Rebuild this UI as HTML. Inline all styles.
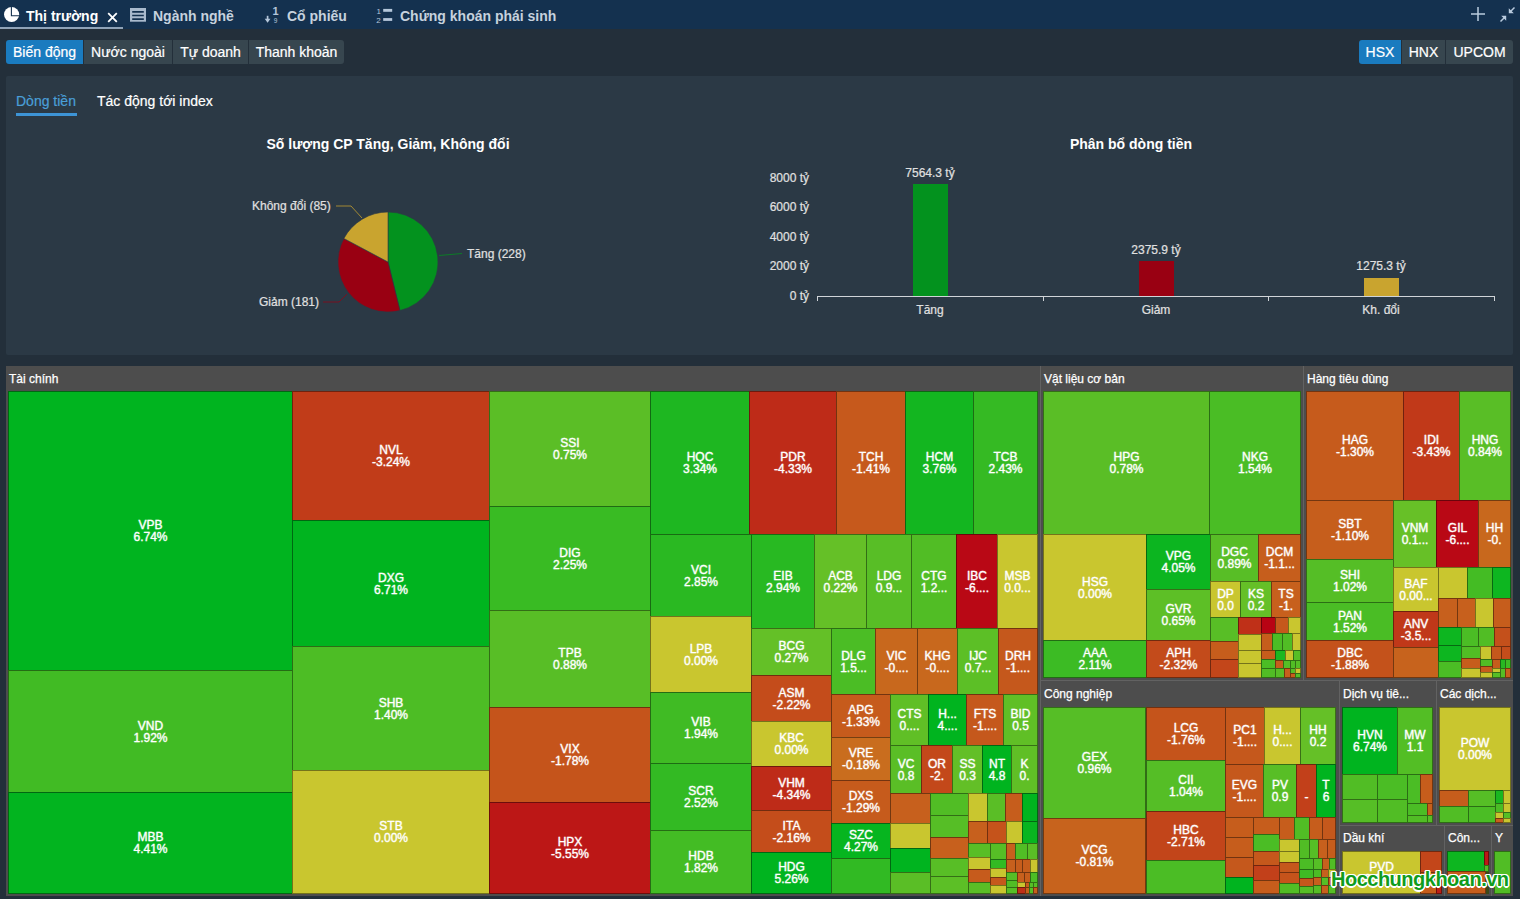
<!DOCTYPE html>
<html lang="vi">
<head>
<meta charset="utf-8">
<title>Thị trường</title>
<style>
*{box-sizing:border-box;margin:0;padding:0}
html,body{width:1520px;height:899px;overflow:hidden;background:#232f3a;font-family:"Liberation Sans",Arial,Helvetica,sans-serif;color:#fff}
.abs{position:absolute}
#top{position:absolute;left:0;top:0;width:1520px;height:29px;background:#14314f}
#top .tab{position:absolute;top:0;height:29px;font-weight:bold;font-size:14px;line-height:33px;color:#c6d2de;white-space:nowrap}
#top .tab.act{color:#fff}
#top .ul{position:absolute;left:0;top:27px;width:123px;height:2px;background:#8fa3b8}
.btn{position:absolute;top:40px;height:24px;background:#37464f;color:#fff;font-size:14px;line-height:24px;text-align:center;white-space:nowrap;-webkit-text-stroke:0.2px #fff}
.btn.on{background:#1a7bbf}
#panel{position:absolute;left:6px;top:76px;width:1507px;height:279px;background:#2b3945;border-radius:2px}
.sub{position:absolute;font-size:14px;line-height:16px;white-space:nowrap;-webkit-text-stroke:0.2px currentColor}
.ttl{position:absolute;font-size:14px;font-weight:bold;line-height:16px;white-space:nowrap;text-align:center}
.lbl{position:absolute;font-size:12px;line-height:14px;color:#e0e0e0;white-space:nowrap;-webkit-text-stroke:0.2px #e0e0e0}
.tm{position:absolute;left:0;top:0;width:1520px;height:899px}
.tmbg{position:absolute;left:6px;top:366px;width:1507px;height:530px;background:#626262}
.grp{position:absolute;background:#4d4d4d;overflow:hidden}
.grp span{position:absolute;left:3px;top:6px;font-size:12px;line-height:14px;color:#fff;white-space:nowrap;-webkit-text-stroke:0.25px #fff}
.ar{position:absolute;overflow:hidden;background:#3a4a1c}
.c{position:absolute;overflow:hidden;box-shadow:inset 0 0 0 1px rgba(0,0,0,.42);display:flex;align-items:center;justify-content:center;text-align:center}
.c b{font-weight:normal;font-size:12px;line-height:12px;color:#fff;white-space:nowrap;-webkit-text-stroke:0.28px #fff;text-shadow:0 0 1.5px rgba(255,255,255,.4)}
#wm{position:absolute;left:1331px;top:866px;font-size:20px;font-weight:bold;line-height:26px;color:#109c1c;white-space:nowrap;letter-spacing:-0.5px;
 text-shadow:-1px -1px 0 #fff,1px -1px 0 #fff,-1px 1px 0 #fff,1px 1px 0 #fff,0 -1.5px 0 #fff,0 1.5px 0 #fff,-1.5px 0 0 #fff,1.5px 0 0 #fff}
</style>
</head>
<body>
<div id="top">
  <div class="ul"></div>
  <svg class="abs" style="left:3px;top:6px" width="18" height="18" viewBox="0 0 18 18"><circle cx="8.6" cy="8.5" r="7.6" fill="#fff"/><path d="M8.4 0.5V9.8H16.6" stroke="#14314f" stroke-width="1.1" fill="none"/></svg>
  <div class="tab act" style="left:26px">Thị trường</div>
  <svg class="abs" style="left:107px;top:12px" width="11" height="11" viewBox="0 0 11 11"><path d="M1.2 1.2L9.8 9.8M9.8 1.2L1.2 9.8" stroke="#fff" stroke-width="1.8" fill="none"/></svg>
  <svg class="abs" style="left:130px;top:8px" width="16" height="14" viewBox="0 0 16 14"><rect x="0" y="0" width="16" height="13.7" fill="#a9bacd"/><path d="M2.2 3.9H13.8M2.2 7.5H13.8M2.2 11.1H13.8" stroke="#14314f" stroke-width="1.6"/></svg>
  <div class="tab" style="left:153px">Ngành nghề</div>
  <svg class="abs" style="left:264px;top:6px" width="16" height="18" viewBox="0 0 16 18"><path d="M3.6 9.8V14" stroke="#b4c6da" stroke-width="1.7" fill="none"/><path d="M0.7 12.8H6.5L3.6 16.8Z" fill="#b4c6da"/><text x="8.6" y="9.3" font-size="11" font-weight="bold" font-family="Liberation Sans,sans-serif" fill="#b4c6da">1</text><text x="9.8" y="16.6" font-size="6.5" font-family="Liberation Sans,sans-serif" fill="#b4c6da">9</text></svg>
  <div class="tab" style="left:287px">Cổ phiếu</div>
  <svg class="abs" style="left:375px;top:6px" width="18" height="18" viewBox="0 0 18 18"><text x="1.6" y="7.7" font-size="8" font-family="Liberation Sans,sans-serif" fill="#b4c6da">1</text><text x="1.2" y="16.6" font-size="8" font-family="Liberation Sans,sans-serif" fill="#b4c6da">2</text><rect x="8.2" y="2.9" width="9" height="2.9" fill="#b4c6da"/><rect x="8.2" y="12.1" width="9" height="2.8" fill="#b4c6da"/></svg>
  <div class="tab" style="left:400px">Chứng khoán phái sinh</div>
  <svg class="abs" style="left:1470px;top:6px" width="16" height="16" viewBox="0 0 16 16"><path d="M8 1V15M1 8H15" stroke="#b9cbde" stroke-width="1.5"/></svg>
  <svg class="abs" style="left:1499px;top:6px" width="17" height="17" viewBox="0 0 17 17"><path d="M15.5 1.5L11.5 5.5M1.5 15.5L5.5 11.5" stroke="#b9cbde" stroke-width="1.5" fill="none"/><path d="M9.8 2.2V7.2H14.8ZM7.2 14.8V9.8H2.2Z" fill="#b9cbde"/></svg>
</div>

<div class="btn on" style="left:6px;width:77px;border-radius:3px 0 0 3px">Biến động</div>
<div class="btn" style="left:84px;width:88px">Nước ngoài</div>
<div class="btn" style="left:173px;width:75px">Tự doanh</div>
<div class="btn" style="left:249px;width:95px;border-radius:0 3px 3px 0">Thanh khoản</div>
<div class="btn on" style="left:1359px;width:42px;border-radius:3px 0 0 3px">HSX</div>
<div class="btn" style="left:1402px;width:43px">HNX</div>
<div class="btn" style="left:1446px;width:67px;border-radius:0 3px 3px 0">UPCOM</div>

<div id="panel"></div>
<div class="sub" style="left:16px;top:93px;color:#4a9fd8">Dòng tiền</div>
<div class="abs" style="left:16px;top:113px;width:61px;height:3px;background:#3d94d6"></div>
<div class="sub" style="left:97px;top:93px">Tác động tới index</div>

<div class="ttl" style="left:188px;top:136px;width:400px">Số lượng CP Tăng, Giảm, Không đổi</div>
<svg class="abs" style="left:200px;top:180px" width="400" height="160" viewBox="200 180 400 160">
  <path d="M388 262 L388.00 212.00 A50 50 0 0 1 399.97 310.55 Z" fill="#03921e" stroke="#2b3945" stroke-width="0.6"/>
  <path d="M388 262 L399.97 310.55 A50 50 0 0 1 343.88 238.48 Z" fill="#990012" stroke="#2b3945" stroke-width="0.6"/>
  <path d="M388 262 L343.88 238.48 A50 50 0 0 1 388.00 212.00 Z" fill="#c9a42f" stroke="#2b3945" stroke-width="0.6"/>
  <path d="M336 206H351L362 218" stroke="#c9a42f" stroke-width="1" fill="none" opacity=".75"/>
  <path d="M439 255.5L462 253.5" stroke="#03921e" stroke-width="1" fill="none" opacity=".75"/>
  <path d="M323 302H339L347 294" stroke="#990012" stroke-width="1" fill="none" opacity=".7"/>
</svg>
<div class="lbl" style="left:252px;top:199px">Không đổi (85)</div>
<div class="lbl" style="left:467px;top:247px">Tăng (228)</div>
<div class="lbl" style="left:259px;top:295px">Giảm (181)</div>

<div class="ttl" style="left:931px;top:136px;width:400px">Phân bổ dòng tiền</div>
<div class="lbl" style="left:740px;width:69px;text-align:right;top:171px">8000 tỷ</div>
<div class="lbl" style="left:740px;width:69px;text-align:right;top:200px">6000 tỷ</div>
<div class="lbl" style="left:740px;width:69px;text-align:right;top:230px">4000 tỷ</div>
<div class="lbl" style="left:740px;width:69px;text-align:right;top:259px">2000 tỷ</div>
<div class="lbl" style="left:740px;width:69px;text-align:right;top:289px">0 tỷ</div>
<div class="abs" style="left:913px;top:184px;width:35px;height:112px;background:#03921e"></div>
<div class="abs" style="left:1139px;top:261px;width:35px;height:35px;background:#990012"></div>
<div class="abs" style="left:1364px;top:278px;width:35px;height:18px;background:#c9a42f"></div>
<div class="abs" style="left:817px;top:296px;width:678px;height:1px;background:#d0d4d8"></div>
<div class="abs" style="left:817px;top:296px;width:1px;height:5px;background:#d0d4d8"></div>
<div class="abs" style="left:1043px;top:296px;width:1px;height:5px;background:#d0d4d8"></div>
<div class="abs" style="left:1268px;top:296px;width:1px;height:5px;background:#d0d4d8"></div>
<div class="abs" style="left:1494px;top:296px;width:1px;height:5px;background:#d0d4d8"></div>
<div class="lbl" style="left:880px;width:100px;text-align:center;top:166px">7564.3 tỷ</div>
<div class="lbl" style="left:1106px;width:100px;text-align:center;top:243px">2375.9 tỷ</div>
<div class="lbl" style="left:1331px;width:100px;text-align:center;top:259px">1275.3 tỷ</div>
<div class="lbl" style="left:880px;width:100px;text-align:center;top:303px">Tăng</div>
<div class="lbl" style="left:1106px;width:100px;text-align:center;top:303px">Giảm</div>
<div class="lbl" style="left:1331px;width:100px;text-align:center;top:303px">Kh. đổi</div>

<div class="tm"><div class="tmbg"></div>
<div class="grp" style="left:6px;top:366px;width:1034px;height:530px"><span>Tài chính</span></div>
<div class="grp" style="left:1041px;top:366px;width:262px;height:314px"><span>Vật liệu cơ bản</span></div>
<div class="grp" style="left:1304px;top:366px;width:209px;height:314px"><span>Hàng tiêu dùng</span></div>
<div class="grp" style="left:1041px;top:681px;width:298px;height:215px"><span>Công nghiệp</span></div>
<div class="grp" style="left:1340px;top:681px;width:96px;height:144px"><span>Dịch vụ tiê...</span></div>
<div class="grp" style="left:1437px;top:681px;width:76px;height:144px"><span>Các dịch...</span></div>
<div class="grp" style="left:1340px;top:826px;width:104px;height:70px"><span style="top:5px">Dầu khí</span></div>
<div class="grp" style="left:1445px;top:826px;width:46px;height:70px"><span style="top:5px">Côn...</span></div>
<div class="grp" style="left:1492px;top:826px;width:21px;height:70px"><span style="top:5px">Y</span></div>
<div class="ar" style="left:8px;top:391px;width:1030px;height:503px">
<div class="c" style="left:0px;top:0px;width:285px;height:280px;background:#00b41f"><b>VPB<br>6.74%</b></div>
<div class="c" style="left:0px;top:279px;width:285px;height:123px;background:#41bb24"><b>VND<br>1.92%</b></div>
<div class="c" style="left:0px;top:401px;width:285px;height:102px;background:#02b41f"><b>MBB<br>4.41%</b></div>
<div class="c" style="left:284px;top:0px;width:198px;height:130px;background:#c13c19"><b>NVL<br>-3.24%</b></div>
<div class="c" style="left:284px;top:129px;width:198px;height:127px;background:#00b41f"><b>DXG<br>6.71%</b></div>
<div class="c" style="left:284px;top:255px;width:198px;height:125px;background:#4dbd25"><b>SHB<br>1.40%</b></div>
<div class="c" style="left:284px;top:379px;width:198px;height:124px;background:#c9c62f"><b>STB<br>0.00%</b></div>
<div class="c" style="left:481px;top:0px;width:162px;height:116px;background:#5bbe26"><b>SSI<br>0.75%</b></div>
<div class="c" style="left:481px;top:115px;width:162px;height:105px;background:#39bb23"><b>DIG<br>2.25%</b></div>
<div class="c" style="left:481px;top:219px;width:162px;height:98px;background:#58be26"><b>TPB<br>0.88%</b></div>
<div class="c" style="left:481px;top:316px;width:162px;height:96px;background:#c5541b"><b>VIX<br>-1.78%</b></div>
<div class="c" style="left:481px;top:411px;width:162px;height:92px;background:#bc1716"><b>HPX<br>-5.55%</b></div>
<div class="c" style="left:642px;top:0px;width:100px;height:144px;background:#1eb721"><b>HQC<br>3.34%</b></div>
<div class="c" style="left:741px;top:0px;width:88px;height:144px;background:#be2b18"><b>PDR<br>-4.33%</b></div>
<div class="c" style="left:828px;top:0px;width:70px;height:144px;background:#c6591c"><b>TCH<br>-1.41%</b></div>
<div class="c" style="left:897px;top:0px;width:69px;height:144px;background:#13b620"><b>HCM<br>3.76%</b></div>
<div class="c" style="left:965px;top:0px;width:65px;height:144px;background:#35ba23"><b>TCB<br>2.43%</b></div>
<div class="c" style="left:642px;top:143px;width:102px;height:83px;background:#2ab922"><b>VCI<br>2.85%</b></div>
<div class="c" style="left:642px;top:225px;width:102px;height:77px;background:#c9c62f"><b>LPB<br>0.00%</b></div>
<div class="c" style="left:642px;top:301px;width:102px;height:72px;background:#40bb24"><b>VIB<br>1.94%</b></div>
<div class="c" style="left:642px;top:372px;width:102px;height:68px;background:#33ba23"><b>SCR<br>2.52%</b></div>
<div class="c" style="left:642px;top:439px;width:102px;height:64px;background:#43bc24"><b>HDB<br>1.82%</b></div>
<div class="c" style="left:743px;top:143px;width:64px;height:95px;background:#28b922"><b>EIB<br>2.94%</b></div>
<div class="c" style="left:806px;top:143px;width:53px;height:95px;background:#65c027"><b>ACB<br>0.22%</b></div>
<div class="c" style="left:858px;top:143px;width:46px;height:95px;background:#58be26"><b>LDG<br>0.9...</b></div>
<div class="c" style="left:903px;top:143px;width:46px;height:95px;background:#51bd25"><b>CTG<br>1.2...</b></div>
<div class="c" style="left:948px;top:143px;width:42px;height:95px;background:#b90815"><b>IBC<br>-6....</b></div>
<div class="c" style="left:989px;top:143px;width:41px;height:95px;background:#c9c62f"><b>MSB<br>0.0...</b></div>
<div class="c" style="left:743px;top:237px;width:81px;height:48px;background:#64c027"><b>BCG<br>0.27%</b></div>
<div class="c" style="left:743px;top:284px;width:81px;height:47px;background:#c44c1b"><b>ASM<br>-2.22%</b></div>
<div class="c" style="left:743px;top:330px;width:81px;height:46px;background:#c9c62f"><b>KBC<br>0.00%</b></div>
<div class="c" style="left:743px;top:375px;width:81px;height:45px;background:#be2b18"><b>VHM<br>-4.34%</b></div>
<div class="c" style="left:743px;top:419px;width:81px;height:43px;background:#c44d1b"><b>ITA<br>-2.16%</b></div>
<div class="c" style="left:743px;top:461px;width:81px;height:42px;background:#00b41f"><b>HDG<br>5.26%</b></div>
<div class="c" style="left:823px;top:237px;width:45px;height:67px;background:#4bbd25"><b>DLG<br>1.5...</b></div>
<div class="c" style="left:867px;top:237px;width:43px;height:67px;background:#c8681d"><b>VIC<br>-0....</b></div>
<div class="c" style="left:909px;top:237px;width:41px;height:67px;background:#c8681d"><b>KHG<br>-0....</b></div>
<div class="c" style="left:949px;top:237px;width:42px;height:67px;background:#5cbf26"><b>IJC<br>0.7...</b></div>
<div class="c" style="left:990px;top:237px;width:40px;height:67px;background:#c5581c"><b>DRH<br>-1....</b></div>
<div class="c" style="left:823px;top:303px;width:60px;height:44px;background:#c65b1c"><b>APG<br>-1.33%</b></div>
<div class="c" style="left:823px;top:346px;width:60px;height:44px;background:#c96d1e"><b>VRE<br>-0.18%</b></div>
<div class="c" style="left:823px;top:389px;width:60px;height:44px;background:#c65b1c"><b>DXS<br>-1.29%</b></div>
<div class="c" style="left:823px;top:432px;width:60px;height:36px;background:#06b51f"><b>SZC<br>4.27%</b></div>
<div class="c" style="left:823px;top:467px;width:60px;height:36px;background:#31ba23"></div>
<div class="c" style="left:882px;top:303px;width:39px;height:52px;background:#60bf26"><b>CTS<br>0....</b></div>
<div class="c" style="left:920px;top:303px;width:39px;height:52px;background:#00b41f"><b>H...<br>4....</b></div>
<div class="c" style="left:958px;top:303px;width:38px;height:52px;background:#c5581c"><b>FTS<br>-1....</b></div>
<div class="c" style="left:995px;top:303px;width:35px;height:52px;background:#60bf26"><b>BID<br>0.5</b></div>
<div class="c" style="left:882px;top:354px;width:32px;height:49px;background:#5abe26"><b>VC<br>0.8</b></div>
<div class="c" style="left:913px;top:354px;width:32px;height:49px;background:#c3481a"><b>OR<br>-2.</b></div>
<div class="c" style="left:944px;top:354px;width:31px;height:49px;background:#63bf27"><b>SS<br>0.3</b></div>
<div class="c" style="left:974px;top:354px;width:30px;height:49px;background:#00b41f"><b>NT<br>4.8</b></div>
<div class="c" style="left:1003px;top:354px;width:27px;height:49px;background:#60bf26"><b>K<br>0.</b></div>
<div class="c" style="left:882px;top:402px;width:41px;height:31px;background:#c7601d"></div>
<div class="c" style="left:882px;top:432px;width:41px;height:26px;background:#c9c62f"></div>
<div class="c" style="left:882px;top:457px;width:41px;height:25px;background:#00b41f"></div>
<div class="c" style="left:882px;top:481px;width:41px;height:22px;background:#5abe26"></div>
<div class="c" style="left:922px;top:402px;width:39px;height:23px;background:#51bd25"></div>
<div class="c" style="left:922px;top:424px;width:39px;height:23px;background:#56be26"></div>
<div class="c" style="left:922px;top:446px;width:39px;height:22px;background:#c7601d"></div>
<div class="c" style="left:922px;top:467px;width:39px;height:19px;background:#58be26"></div>
<div class="c" style="left:922px;top:485px;width:39px;height:18px;background:#5cbf26"></div>
<div class="c" style="left:960px;top:402px;width:20px;height:29px;background:#c9c62f"></div>
<div class="c" style="left:979px;top:402px;width:19px;height:29px;background:#5abe26"></div>
<div class="c" style="left:997px;top:402px;width:18px;height:29px;background:#c65d1c"></div>
<div class="c" style="left:1014px;top:402px;width:16px;height:29px;background:#00b41f"></div>
<div class="c" style="left:960px;top:430px;width:20px;height:23px;background:#c7601d"></div>
<div class="c" style="left:979px;top:430px;width:20px;height:23px;background:#c5531b"></div>
<div class="c" style="left:998px;top:430px;width:17px;height:23px;background:#c9c62f"></div>
<div class="c" style="left:1014px;top:430px;width:16px;height:23px;background:#08b520"></div>
<div class="c" style="left:960px;top:452px;width:23px;height:15px;background:#58be26"></div>
<div class="c" style="left:960px;top:466px;width:23px;height:13px;background:#c9c62f"></div>
<div class="c" style="left:960px;top:478px;width:23px;height:14px;background:#c65b1c"></div>
<div class="c" style="left:960px;top:491px;width:23px;height:12px;background:#5abe26"></div>
<div class="c" style="left:982px;top:452px;width:17px;height:17px;background:#56be26"></div>
<div class="c" style="left:982px;top:468px;width:17px;height:10px;background:#33ba23"></div>
<div class="c" style="left:982px;top:477px;width:17px;height:10px;background:#c9c62f"></div>
<div class="c" style="left:982px;top:486px;width:17px;height:9px;background:#c5581c"></div>
<div class="c" style="left:982px;top:494px;width:17px;height:9px;background:#c9c62f"></div>
<div class="c" style="left:998px;top:452px;width:10px;height:17px;background:#c7601d"></div>
<div class="c" style="left:1007px;top:452px;width:13px;height:17px;background:#51bd25"></div>
<div class="c" style="left:1019px;top:452px;width:11px;height:17px;background:#5abe26"></div>
<div class="c" style="left:998px;top:468px;width:10px;height:14px;background:#c7601d"></div>
<div class="c" style="left:1007px;top:468px;width:8px;height:14px;background:#c65d1c"></div>
<div class="c" style="left:1014px;top:468px;width:9px;height:14px;background:#c65d1c"></div>
<div class="c" style="left:1022px;top:468px;width:8px;height:14px;background:#c9c62f"></div>
<div class="c" style="left:998px;top:481px;width:12px;height:9px;background:#56be26"></div>
<div class="c" style="left:998px;top:489px;width:12px;height:8px;background:#51bd25"></div>
<div class="c" style="left:998px;top:496px;width:12px;height:7px;background:#56be26"></div>
<div class="c" style="left:1009px;top:481px;width:8px;height:11px;background:#c7601d"></div>
<div class="c" style="left:1016px;top:481px;width:7px;height:11px;background:#c65d1c"></div>
<div class="c" style="left:1022px;top:481px;width:8px;height:11px;background:#4bbd25"></div>
<div class="c" style="left:1009px;top:491px;width:9px;height:6px;background:#c9c62f"></div>
<div class="c" style="left:1009px;top:496px;width:9px;height:7px;background:#bf3018"></div>
<div class="c" style="left:1017px;top:491px;width:5px;height:6px;background:#c65d1c"></div>
<div class="c" style="left:1021px;top:491px;width:5px;height:6px;background:#56be26"></div>
<div class="c" style="left:1025px;top:491px;width:5px;height:6px;background:#56be26"></div>
<div class="c" style="left:1017px;top:496px;width:5px;height:7px;background:#c7601d"></div>
<div class="c" style="left:1021px;top:496px;width:5px;height:7px;background:#56be26"></div>
<div class="c" style="left:1025px;top:496px;width:5px;height:7px;background:#c7601d"></div>
</div>
<div class="ar" style="left:1043px;top:391px;width:258px;height:287px">
<div class="c" style="left:0px;top:0px;width:167px;height:144px;background:#5abe26"><b>HPG<br>0.78%</b></div>
<div class="c" style="left:166px;top:0px;width:92px;height:144px;background:#4abd25"><b>NKG<br>1.54%</b></div>
<div class="c" style="left:0px;top:143px;width:104px;height:107px;background:#c9c62f"><b>HSG<br>0.00%</b></div>
<div class="c" style="left:0px;top:249px;width:104px;height:38px;background:#3cbb24"><b>AAA<br>2.11%</b></div>
<div class="c" style="left:103px;top:143px;width:65px;height:56px;background:#0cb520"><b>VPG<br>4.05%</b></div>
<div class="c" style="left:103px;top:198px;width:65px;height:52px;background:#5dbf26"><b>GVR<br>0.65%</b></div>
<div class="c" style="left:103px;top:249px;width:65px;height:38px;background:#c34b1b"><b>APH<br>-2.32%</b></div>
<div class="c" style="left:167px;top:143px;width:49px;height:48px;background:#58be26"><b>DGC<br>0.89%</b></div>
<div class="c" style="left:215px;top:143px;width:43px;height:48px;background:#c65e1c"><b>DCM<br>-1.1...</b></div>
<div class="c" style="left:167px;top:190px;width:31px;height:37px;background:#c9c62f"><b>DP<br>0.0</b></div>
<div class="c" style="left:197px;top:190px;width:32px;height:37px;background:#65c027"><b>KS<br>0.2</b></div>
<div class="c" style="left:228px;top:190px;width:30px;height:37px;background:#c7601d"><b>TS<br>-1.</b></div>
<div class="c" style="left:167px;top:226px;width:29px;height:25px;background:#58be26"></div>
<div class="c" style="left:167px;top:250px;width:29px;height:19px;background:#c65d1c"></div>
<div class="c" style="left:167px;top:268px;width:29px;height:19px;background:#c3461a"></div>
<div class="c" style="left:195px;top:226px;width:24px;height:18px;background:#bf3018"></div>
<div class="c" style="left:218px;top:226px;width:15px;height:17px;background:#b80314"></div>
<div class="c" style="left:232px;top:226px;width:14px;height:17px;background:#c5581c"></div>
<div class="c" style="left:245px;top:226px;width:13px;height:17px;background:#c9c62f"></div>
<div class="c" style="left:195px;top:243px;width:24px;height:17px;background:#c9c62f"></div>
<div class="c" style="left:195px;top:259px;width:24px;height:14px;background:#c9c62f"></div>
<div class="c" style="left:195px;top:272px;width:24px;height:15px;background:#c9c62f"></div>
<div class="c" style="left:218px;top:242px;width:12px;height:18px;background:#c65d1c"></div>
<div class="c" style="left:229px;top:242px;width:11px;height:18px;background:#4bbd25"></div>
<div class="c" style="left:239px;top:242px;width:11px;height:18px;background:#51bd25"></div>
<div class="c" style="left:249px;top:242px;width:9px;height:18px;background:#c9c62f"></div>
<div class="c" style="left:218px;top:259px;width:15px;height:10px;background:#c65d1c"></div>
<div class="c" style="left:218px;top:268px;width:15px;height:10px;background:#4bbd25"></div>
<div class="c" style="left:218px;top:277px;width:15px;height:10px;background:#51bd25"></div>
<div class="c" style="left:232px;top:259px;width:11px;height:11px;background:#1ab721"></div>
<div class="c" style="left:242px;top:259px;width:9px;height:11px;background:#c9c62f"></div>
<div class="c" style="left:250px;top:259px;width:8px;height:11px;background:#56be26"></div>
<div class="c" style="left:232px;top:269px;width:9px;height:9px;background:#c65d1c"></div>
<div class="c" style="left:240px;top:269px;width:8px;height:9px;background:#56be26"></div>
<div class="c" style="left:247px;top:269px;width:6px;height:9px;background:#51bd25"></div>
<div class="c" style="left:252px;top:269px;width:6px;height:9px;background:#56be26"></div>
<div class="c" style="left:232px;top:277px;width:10px;height:10px;background:#56be26"></div>
<div class="c" style="left:241px;top:277px;width:7px;height:10px;background:#c7601d"></div>
<div class="c" style="left:247px;top:277px;width:6px;height:6px;background:#56be26"></div>
<div class="c" style="left:252px;top:277px;width:6px;height:6px;background:#c9c62f"></div>
<div class="c" style="left:247px;top:282px;width:6px;height:5px;background:#c7601d"></div>
<div class="c" style="left:252px;top:282px;width:6px;height:5px;background:#56be26"></div>
</div>
<div class="ar" style="left:1306px;top:391px;width:205px;height:287px">
<div class="c" style="left:0px;top:0px;width:98px;height:110px;background:#c65b1c"><b>HAG<br>-1.30%</b></div>
<div class="c" style="left:97px;top:0px;width:57px;height:110px;background:#c13919"><b>IDI<br>-3.43%</b></div>
<div class="c" style="left:153px;top:0px;width:52px;height:110px;background:#59be26"><b>HNG<br>0.84%</b></div>
<div class="c" style="left:0px;top:109px;width:88px;height:60px;background:#c65e1c"><b>SBT<br>-1.10%</b></div>
<div class="c" style="left:0px;top:168px;width:88px;height:44px;background:#55be26"><b>SHI<br>1.02%</b></div>
<div class="c" style="left:0px;top:211px;width:88px;height:39px;background:#4abd25"><b>PAN<br>1.52%</b></div>
<div class="c" style="left:0px;top:249px;width:88px;height:38px;background:#c4521b"><b>DBC<br>-1.88%</b></div>
<div class="c" style="left:87px;top:109px;width:44px;height:68px;background:#67c027"><b>VNM<br>0.1...</b></div>
<div class="c" style="left:130px;top:109px;width:43px;height:68px;background:#b90815"><b>GIL<br>-6....</b></div>
<div class="c" style="left:172px;top:109px;width:33px;height:68px;background:#c8681d"><b>HH<br>-0.</b></div>
<div class="c" style="left:87px;top:176px;width:46px;height:45px;background:#c9c62f"><b>BAF<br>0.00...</b></div>
<div class="c" style="left:87px;top:220px;width:46px;height:37px;background:#c03819"><b>ANV<br>-3.5...</b></div>
<div class="c" style="left:87px;top:256px;width:46px;height:31px;background:#c7631d"></div>
<div class="c" style="left:132px;top:176px;width:30px;height:32px;background:#c9c62f"></div>
<div class="c" style="left:161px;top:176px;width:26px;height:32px;background:#44bc24"></div>
<div class="c" style="left:186px;top:176px;width:19px;height:32px;background:#0db620"></div>
<div class="c" style="left:132px;top:207px;width:20px;height:30px;background:#c7601d"></div>
<div class="c" style="left:151px;top:207px;width:19px;height:30px;background:#c7601d"></div>
<div class="c" style="left:169px;top:207px;width:19px;height:30px;background:#c9c62f"></div>
<div class="c" style="left:187px;top:207px;width:18px;height:30px;background:#c65d1c"></div>
<div class="c" style="left:132px;top:236px;width:24px;height:19px;background:#0db620"></div>
<div class="c" style="left:132px;top:254px;width:24px;height:17px;background:#0db620"></div>
<div class="c" style="left:132px;top:270px;width:24px;height:17px;background:#4bbd25"></div>
<div class="c" style="left:155px;top:236px;width:18px;height:20px;background:#4bbd25"></div>
<div class="c" style="left:172px;top:236px;width:17px;height:20px;background:#51bd25"></div>
<div class="c" style="left:188px;top:236px;width:17px;height:20px;background:#c4501b"></div>
<div class="c" style="left:155px;top:255px;width:20px;height:13px;background:#51bd25"></div>
<div class="c" style="left:174px;top:255px;width:12px;height:14px;background:#c9c62f"></div>
<div class="c" style="left:185px;top:255px;width:11px;height:14px;background:#c5581c"></div>
<div class="c" style="left:195px;top:255px;width:10px;height:14px;background:#c44d1b"></div>
<div class="c" style="left:155px;top:267px;width:20px;height:11px;background:#c65d1c"></div>
<div class="c" style="left:155px;top:277px;width:20px;height:10px;background:#c9c62f"></div>
<div class="c" style="left:174px;top:268px;width:13px;height:8px;background:#51bd25"></div>
<div class="c" style="left:174px;top:275px;width:13px;height:7px;background:#c65d1c"></div>
<div class="c" style="left:174px;top:281px;width:13px;height:6px;background:#c9c62f"></div>
<div class="c" style="left:186px;top:268px;width:9px;height:10px;background:#c65d1c"></div>
<div class="c" style="left:194px;top:268px;width:6px;height:10px;background:#27b822"></div>
<div class="c" style="left:199px;top:268px;width:6px;height:10px;background:#3fbb24"></div>
<div class="c" style="left:186px;top:277px;width:9px;height:5px;background:#c9c62f"></div>
<div class="c" style="left:186px;top:281px;width:9px;height:6px;background:#56be26"></div>
<div class="c" style="left:194px;top:277px;width:6px;height:10px;background:#56be26"></div>
<div class="c" style="left:199px;top:277px;width:6px;height:10px;background:#c7601d"></div>
</div>
<div class="ar" style="left:1043px;top:707px;width:293px;height:187px">
<div class="c" style="left:0px;top:0px;width:103px;height:112px;background:#56be26"><b>GEX<br>0.96%</b></div>
<div class="c" style="left:0px;top:111px;width:103px;height:76px;background:#c7631d"><b>VCG<br>-0.81%</b></div>
<div class="c" style="left:103px;top:0px;width:80px;height:54px;background:#c5541b"><b>LCG<br>-1.76%</b></div>
<div class="c" style="left:103px;top:53px;width:80px;height:52px;background:#55be26"><b>CII<br>1.04%</b></div>
<div class="c" style="left:103px;top:104px;width:80px;height:50px;background:#c2451a"><b>HBC<br>-2.71%</b></div>
<div class="c" style="left:103px;top:153px;width:80px;height:34px;background:#4bbd25"></div>
<div class="c" style="left:182px;top:0px;width:40px;height:58px;background:#c5581c"><b>PC1<br>-1....</b></div>
<div class="c" style="left:221px;top:0px;width:37px;height:58px;background:#c9c62f"><b>H...<br>0....</b></div>
<div class="c" style="left:257px;top:0px;width:36px;height:58px;background:#65c027"><b>HH<br>0.2</b></div>
<div class="c" style="left:182px;top:57px;width:39px;height:54px;background:#c5581c"><b>EVG<br>-1....</b></div>
<div class="c" style="left:220px;top:57px;width:34px;height:54px;background:#58be26"><b>PV<br>0.9</b></div>
<div class="c" style="left:253px;top:57px;width:21px;height:54px;background:#c2401a"><b>&nbsp;<br>-</b></div>
<div class="c" style="left:273px;top:57px;width:20px;height:54px;background:#00b41f"><b>T<br>6</b></div>
<div class="c" style="left:182px;top:110px;width:29px;height:21px;background:#c65d1c"></div>
<div class="c" style="left:182px;top:130px;width:29px;height:21px;background:#c65d1c"></div>
<div class="c" style="left:182px;top:150px;width:29px;height:21px;background:#c5581c"></div>
<div class="c" style="left:182px;top:170px;width:29px;height:17px;background:#00b41f"></div>
<div class="c" style="left:210px;top:110px;width:27px;height:18px;background:#c65d1c"></div>
<div class="c" style="left:210px;top:127px;width:27px;height:18px;background:#4bbd25"></div>
<div class="c" style="left:210px;top:144px;width:27px;height:15px;background:#c5581c"></div>
<div class="c" style="left:210px;top:158px;width:27px;height:16px;background:#c2401a"></div>
<div class="c" style="left:210px;top:173px;width:27px;height:14px;background:#c65d1c"></div>
<div class="c" style="left:236px;top:110px;width:16px;height:23px;background:#c65d1c"></div>
<div class="c" style="left:251px;top:110px;width:16px;height:23px;background:#51bd25"></div>
<div class="c" style="left:266px;top:110px;width:14px;height:23px;background:#c65d1c"></div>
<div class="c" style="left:279px;top:110px;width:14px;height:23px;background:#c5581c"></div>
<div class="c" style="left:236px;top:132px;width:21px;height:13px;background:#c9c62f"></div>
<div class="c" style="left:236px;top:144px;width:21px;height:12px;background:#c9c62f"></div>
<div class="c" style="left:236px;top:155px;width:21px;height:11px;background:#c5581c"></div>
<div class="c" style="left:236px;top:165px;width:21px;height:12px;background:#c5531b"></div>
<div class="c" style="left:236px;top:176px;width:21px;height:11px;background:#51bd25"></div>
<div class="c" style="left:256px;top:132px;width:11px;height:20px;background:#51bd25"></div>
<div class="c" style="left:266px;top:132px;width:10px;height:20px;background:#56be26"></div>
<div class="c" style="left:275px;top:132px;width:10px;height:20px;background:#c7601d"></div>
<div class="c" style="left:284px;top:132px;width:9px;height:20px;background:#c65d1c"></div>
<div class="c" style="left:256px;top:151px;width:15px;height:12px;background:#4bbd25"></div>
<div class="c" style="left:256px;top:162px;width:15px;height:10px;background:#3fbb24"></div>
<div class="c" style="left:256px;top:171px;width:15px;height:9px;background:#c5581c"></div>
<div class="c" style="left:256px;top:179px;width:15px;height:8px;background:#56be26"></div>
<div class="c" style="left:270px;top:151px;width:10px;height:12px;background:#56be26"></div>
<div class="c" style="left:279px;top:151px;width:8px;height:12px;background:#c7601d"></div>
<div class="c" style="left:286px;top:151px;width:7px;height:12px;background:#51bd25"></div>
<div class="c" style="left:270px;top:162px;width:9px;height:9px;background:#4bbd25"></div>
<div class="c" style="left:278px;top:162px;width:8px;height:9px;background:#c7601d"></div>
<div class="c" style="left:285px;top:162px;width:8px;height:9px;background:#c9c62f"></div>
<div class="c" style="left:270px;top:170px;width:9px;height:9px;background:#c7601d"></div>
<div class="c" style="left:278px;top:170px;width:8px;height:9px;background:#56be26"></div>
<div class="c" style="left:285px;top:170px;width:8px;height:9px;background:#c5581c"></div>
<div class="c" style="left:270px;top:178px;width:9px;height:9px;background:#56be26"></div>
<div class="c" style="left:278px;top:178px;width:8px;height:9px;background:#c7601d"></div>
<div class="c" style="left:285px;top:178px;width:8px;height:9px;background:#56be26"></div>
</div>
<div class="ar" style="left:1342px;top:707px;width:91px;height:116px">
<div class="c" style="left:0px;top:0px;width:56px;height:68px;background:#00b41f"><b>HVN<br>6.74%</b></div>
<div class="c" style="left:55px;top:0px;width:36px;height:68px;background:#53be25"><b>MW<br>1.1</b></div>
<div class="c" style="left:0px;top:67px;width:36px;height:26px;background:#51bd25"></div>
<div class="c" style="left:0px;top:92px;width:36px;height:24px;background:#56be26"></div>
<div class="c" style="left:35px;top:67px;width:31px;height:26px;background:#4bbd25"></div>
<div class="c" style="left:35px;top:92px;width:31px;height:24px;background:#51bd25"></div>
<div class="c" style="left:65px;top:67px;width:14px;height:30px;background:#4bbd25"></div>
<div class="c" style="left:78px;top:67px;width:13px;height:30px;background:#c65d1c"></div>
<div class="c" style="left:65px;top:96px;width:21px;height:13px;background:#4bbd25"></div>
<div class="c" style="left:65px;top:108px;width:21px;height:8px;background:#51bd25"></div>
<div class="c" style="left:85px;top:96px;width:6px;height:13px;background:#c7601d"></div>
<div class="c" style="left:85px;top:108px;width:6px;height:8px;background:#56be26"></div>
</div>
<div class="ar" style="left:1439px;top:707px;width:72px;height:116px">
<div class="c" style="left:0px;top:0px;width:72px;height:84px;background:#c9c62f"><b>POW<br>0.00%</b></div>
<div class="c" style="left:0px;top:83px;width:30px;height:17px;background:#c65d1c"></div>
<div class="c" style="left:0px;top:99px;width:30px;height:17px;background:#51bd25"></div>
<div class="c" style="left:29px;top:83px;width:28px;height:17px;background:#56be26"></div>
<div class="c" style="left:29px;top:99px;width:28px;height:17px;background:#4bbd25"></div>
<div class="c" style="left:56px;top:83px;width:9px;height:14px;background:#1ab721"></div>
<div class="c" style="left:64px;top:83px;width:8px;height:14px;background:#c9c62f"></div>
<div class="c" style="left:56px;top:96px;width:9px;height:10px;background:#4bbd25"></div>
<div class="c" style="left:64px;top:96px;width:8px;height:10px;background:#c9c62f"></div>
<div class="c" style="left:56px;top:105px;width:9px;height:7px;background:#c9c62f"></div>
<div class="c" style="left:64px;top:105px;width:8px;height:7px;background:#56be26"></div>
<div class="c" style="left:56px;top:111px;width:9px;height:5px;background:#c7601d"></div>
<div class="c" style="left:64px;top:111px;width:8px;height:5px;background:#c9c62f"></div>
</div>
<div class="ar" style="left:1342px;top:851px;width:100px;height:43px">
<div class="c" style="left:0px;top:0px;width:79px;height:43px;background:#c9c62f"><b>PVD<br>0.00%</b></div>
<div class="c" style="left:78px;top:0px;width:22px;height:22px;background:#c3461a"></div>
<div class="c" style="left:78px;top:21px;width:17px;height:22px;background:#c65d1c"></div>
<div class="c" style="left:94px;top:21px;width:6px;height:22px;background:#bd2017"></div>
</div>
<div class="ar" style="left:1447px;top:851px;width:42px;height:43px">
<div class="c" style="left:0px;top:0px;width:38px;height:21px;background:#0db620"></div>
<div class="c" style="left:37px;top:0px;width:5px;height:15px;background:#bc1816"></div>
<div class="c" style="left:37px;top:14px;width:5px;height:7px;background:#51bd25"></div>
<div class="c" style="left:0px;top:20px;width:39px;height:23px;background:#c65d1c"></div>
</div>
<div class="ar" style="left:1494px;top:851px;width:17px;height:43px">
<div class="c" style="left:0px;top:0px;width:17px;height:43px;background:#51bd25"></div>
</div>
</div>
<div id="wm">Hocchungkhoan.vn</div>
</body>
</html>
